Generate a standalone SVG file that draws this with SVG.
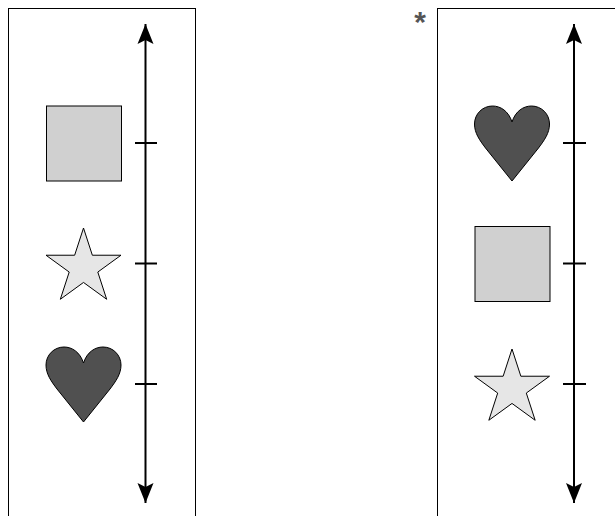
<svg xmlns="http://www.w3.org/2000/svg" xmlns:xlink="http://www.w3.org/1999/xlink" width="615" height="516" viewBox="0 0 615 516">
  <style>
    .panel { fill: #ffffff; stroke: #000000; stroke-width: 1; }
    .axis { stroke: #000000; stroke-width: 2; fill: none; }
    .tick { stroke: #000000; stroke-width: 2; }
    .square { fill: #d0d0d0; stroke: #000000; stroke-width: 1; }
    .star { fill: #e6e6e6; stroke: #000000; stroke-width: 1; }
    .heart { fill: #505050; stroke: #000000; stroke-width: 1; }
    .mark { font-family: "Liberation Sans", Arial, sans-serif; font-weight: bold; font-size: 30px; fill: #555555; }
  </style>
  <defs>
    <marker id="arrow" markerUnits="userSpaceOnUse" viewBox="0 -9 22 18" markerWidth="22" markerHeight="18" refX="20" refY="0" orient="auto-start-reverse">
      <path d="M0,-8 L20,0 L0,8 L4,0 Z" fill="#000000"/>
    </marker>
    <rect id="squareShape" x="0" y="0" width="75" height="75"/>
    <polygon id="starShape" points="37.5,0 46.35,27.22 75,27.23 51.81,44.05 60.66,71.27 37.5,54.45 14.34,71.27 23.19,44.05 0,27.23 28.65,27.22"/>
    <path id="heartShape" d="M37.5,16 C34,5 26,0 18,0 C8,0 0,8 0,18 C0,27 5,34 11,42 L37.5,75 L64,42 C70,34 75,27 75,18 C75,8 67,0 57,0 C49,0 41,5 37.5,16 Z"/>
  </defs>

  <g id="left-panel">
    <rect class="panel" x="8.5" y="8.5" width="187" height="520"/>
  </g>
  <g id="right-panel">
    <rect class="panel" x="437.5" y="8.5" width="200" height="520"/>
    <text class="mark" x="420" y="32" text-anchor="middle">*</text>
  </g>

  <g id="connectors">
    <line class="axis" x1="145.5" y1="24" x2="145.5" y2="503" marker-start="url(#arrow)" marker-end="url(#arrow)"/>
    <line class="tick" x1="135" y1="143" x2="157" y2="143"/>
    <line class="tick" x1="135" y1="263.5" x2="157" y2="263.5"/>
    <line class="tick" x1="135" y1="384" x2="157" y2="384"/>
    <line class="axis" x1="574" y1="24" x2="574" y2="503" marker-start="url(#arrow)" marker-end="url(#arrow)"/>
    <line class="tick" x1="563" y1="143" x2="586" y2="143"/>
    <line class="tick" x1="563" y1="263.5" x2="586" y2="263.5"/>
    <line class="tick" x1="563" y1="384" x2="586" y2="384"/>
  </g>

  <g id="left-square"><use xlink:href="#squareShape" href="#squareShape" class="square" transform="translate(46.5,106)"/></g>
  <g id="left-star"><use xlink:href="#starShape" href="#starShape" class="star" transform="translate(46,228)"/></g>
  <g id="left-heart"><use xlink:href="#heartShape" href="#heartShape" class="heart" transform="translate(46,347)"/></g>

  <g id="right-heart"><use xlink:href="#heartShape" href="#heartShape" class="heart" transform="translate(474.5,106)"/></g>
  <g id="right-square"><use xlink:href="#squareShape" href="#squareShape" class="square" transform="translate(475,226.5)"/></g>
  <g id="right-star"><use xlink:href="#starShape" href="#starShape" class="star" transform="translate(474.5,349)"/></g>
</svg>
